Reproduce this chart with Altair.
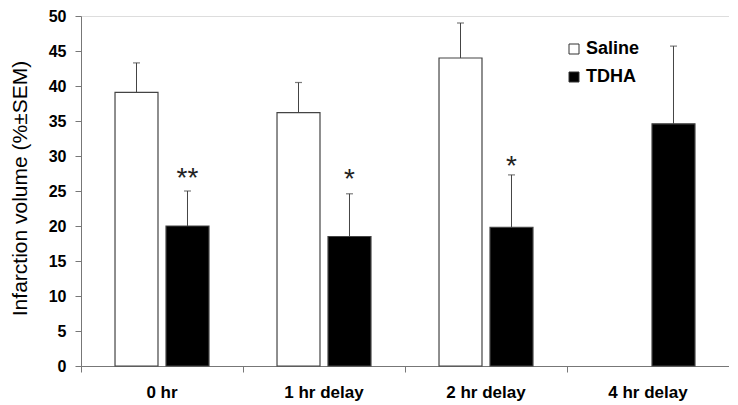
import altair as alt
import pandas as pd

groups = ["0 hr", "1 hr delay", "2 hr delay", "4 hr delay"]
series = ["Saline", "TDHA"]
saline_mean = [39.1, 36.2, 44.0, None]
saline_sem = [4.2, 4.3, 5.0, None]
tdha_mean = [20.0, 18.5, 19.8, 34.6]
tdha_sem = [5.0, 6.1, 7.5, 11.1]
stars = ["**", "*", "*", ""]
star_y = [27.9, 27.7, 29.6, None]
y_ticks = [0, 5, 10, 15, 20, 25, 30, 35, 40, 45, 50]

rows = []
for g, m, s in zip(groups, saline_mean, saline_sem):
    if m is not None:
        rows.append({"group": g, "series": "Saline", "mean": m, "top": m + s})
for g, m, s in zip(groups, tdha_mean, tdha_sem):
    if m is not None:
        rows.append({"group": g, "series": "TDHA", "mean": m, "top": m + s})
df = pd.DataFrame(rows)

star_df = pd.DataFrame(
    [{"group": g, "series": "TDHA", "label": t, "y": y}
     for g, t, y in zip(groups, stars, star_y) if t]
)

FONT = "Liberation Sans"

x_enc = alt.X(
    "group:N",
    sort=groups,
    scale=alt.Scale(domain=groups, paddingInner=0, paddingOuter=0),
    axis=alt.Axis(
        title=None,
        labelAngle=0,
        labelFont=FONT,
        labelFontSize=17,
        labelFontWeight="bold",
        labelColor="black",
        labelPadding=12,
        bandPosition=0,
        tickSize=6,
        tickColor="#777",
        domainColor="#777",
    ),
)
xo_enc = alt.XOffset(
    "series:N",
    scale=alt.Scale(domain=series, paddingInner=0.157, paddingOuter=0.667),
)
y_scale = alt.Scale(domain=[0, 50], nice=False)
y_axis = alt.Axis(
    title="Infarction volume (%±SEM)",
    values=y_ticks,
    grid=False,
    labelOverlap=False,
    labelFlush=False,
    labelFont=FONT,
    labelFontSize=16,
    labelFontWeight="bold",
    labelColor="black",
    labelPadding=9,
    tickSize=6,
    tickColor="#777",
    domainColor="#777",
    titleFont=FONT,
    titleFontSize=21,
    titleFontWeight="normal",
    titleColor="black",
    titleX=-61,
    titleY=172,
    titleAngle=270,
    titleAlign="center",
    titleBaseline="middle",
)


def y_enc(field):
    return alt.Y(field, scale=y_scale, axis=y_axis)


bars = alt.Chart(df).mark_bar(stroke="#444", strokeWidth=1.2).encode(
    x=x_enc,
    xOffset=xo_enc,
    y=y_enc("mean:Q"),
    color=alt.Color(
        "series:N",
        scale=alt.Scale(domain=series, range=["white", "black"]),
        legend=alt.Legend(
            title=None,
            orient="none",
            legendX=484,
            legendY=24,
            symbolType="square",
            symbolSize=100,
            symbolStrokeColor="#333",
            symbolStrokeWidth=1,
            labelFont=FONT,
            labelFontSize=18,
            labelFontWeight="bold",
            labelColor="black",
            labelOffset=3,
            rowPadding=10,
        ),
    ),
)

err = alt.Chart(df).mark_rule(color="#444", strokeWidth=1).encode(
    x=x_enc, xOffset=xo_enc, y=y_enc("mean:Q"), y2="top:Q"
)
caps = alt.Chart(df).mark_tick(color="#444", thickness=1.2, size=7).encode(
    x=x_enc, xOffset=xo_enc, y=y_enc("top:Q")
)
star_text = alt.Chart(star_df).mark_text(
    font=FONT, fontSize=28, color="#222", baseline="alphabetic", dy=16
).encode(
    x=x_enc, xOffset=xo_enc, y=y_enc("y:Q"), text="label:N"
)

chart = (
    alt.layer(bars, err, caps, star_text)
    .properties(
        width=648,
        height=350,
        autosize=alt.AutoSizeParams(type="none"),
        padding={"left": 73, "top": 8, "right": 0, "bottom": 36},
    )
    .configure_view(stroke=None)
    .configure(background="white")
)

chart.save("out.html", embed_options={"renderer": "svg", "actions": False})
